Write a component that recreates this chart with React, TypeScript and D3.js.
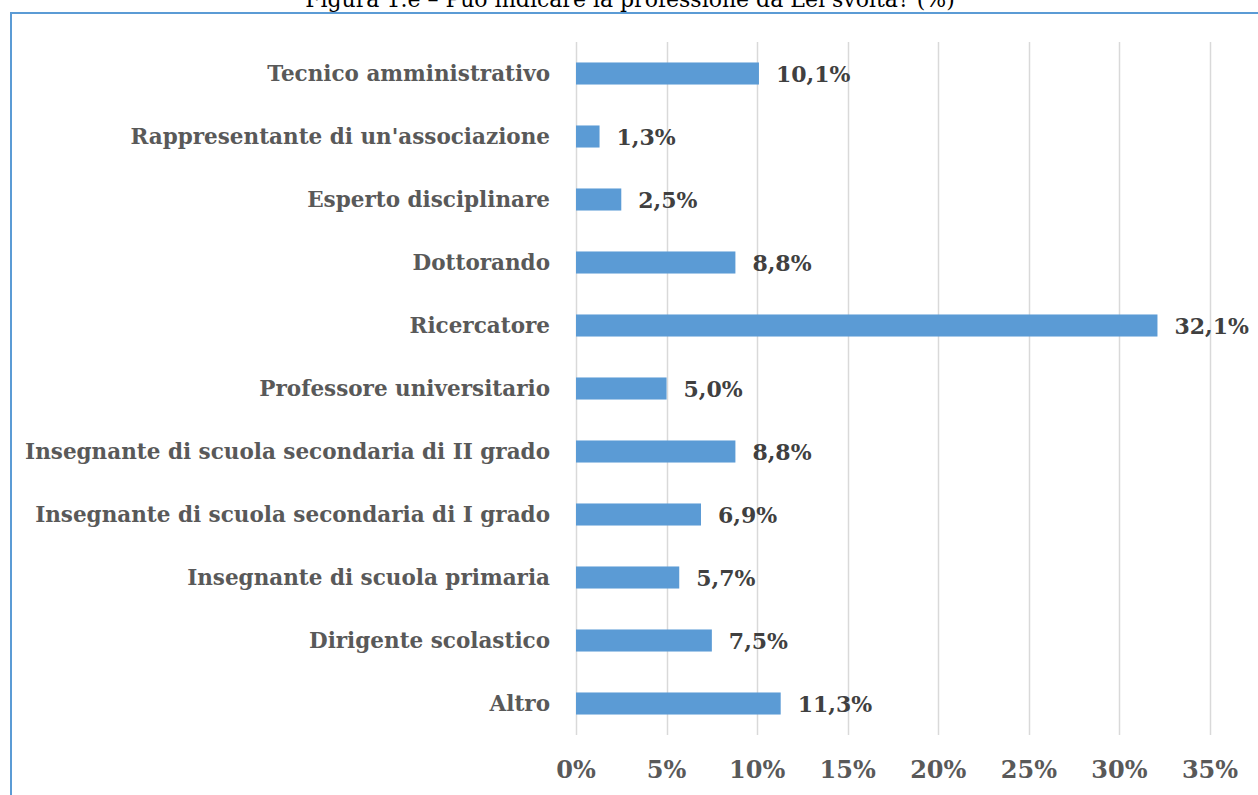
import React, { useEffect, useRef } from "react";
import * as d3 from "d3";

const categories = [
  "Tecnico amministrativo",
  "Rappresentante di un'associazione",
  "Esperto disciplinare",
  "Dottorando",
  "Ricercatore",
  "Professore universitario",
  "Insegnante di scuola secondaria di II grado",
  "Insegnante di scuola secondaria di I grado",
  "Insegnante di scuola primaria",
  "Dirigente scolastico",
  "Altro",
];
const values = [10.1, 1.3, 2.5, 8.8, 32.1, 5.0, 8.8, 6.9, 5.7, 7.5, 11.3];
const ticks = [0, 5, 10, 15, 20, 25, 30, 35];
const title = "Figura 1.e – Può indicare la professione da Lei svolta? (%)";

const W = 1258;
const H = 795;
const FONT = "'DejaVu Serif', serif";

export default function App() {
  const ref = useRef<SVGSVGElement>(null);

  useEffect(() => {
    const svg = d3.select(ref.current);
    svg.selectAll("*").remove();

    const margin = { top: 42, right: 48, bottom: 60, left: 576 };
    const x = d3.scaleLinear().domain([0, 35]).range([margin.left, W - margin.right]);
    const y = d3
      .scaleBand()
      .domain(categories)
      .range([margin.top, H - margin.bottom])
      .paddingInner(0.65)
      .paddingOuter(0.325);

    // frame
    svg
      .append("path")
      .attr("d", `M11,${H} L11,13 L${W},13`)
      .attr("fill", "none")
      .attr("stroke", "#5b9bd5")
      .attr("stroke-width", 2);

    // title (cut at top)
    svg
      .append("text")
      .attr("x", 630)
      .attr("y", 7)
      .attr("text-anchor", "middle")
      .attr("font-family", FONT)
      .attr("font-size", 22)
      .attr("fill", "#000")
      .text(title);

    // gridlines
    svg
      .append("g")
      .selectAll("line")
      .data(ticks)
      .join("line")
      .attr("x1", (d) => Math.round(x(d)) + 0.5)
      .attr("x2", (d) => Math.round(x(d)) + 0.5)
      .attr("y1", margin.top)
      .attr("y2", H - margin.bottom)
      .attr("stroke", "#d9d9d9")
      .attr("stroke-width", 1.5);

    // tick labels
    svg
      .append("g")
      .selectAll("text")
      .data(ticks)
      .join("text")
      .attr("x", (d) => x(d))
      .attr("y", 778)
      .attr("text-anchor", "middle")
      .attr("font-family", FONT)
      .attr("font-weight", "bold")
      .attr("font-size", 24)
      .attr("fill", "#595959")
      .text((d) => d + "%");

    const rows = categories.map((c, i) => ({ c, v: values[i] }));

    // bars
    svg
      .append("g")
      .selectAll("rect")
      .data(rows)
      .join("rect")
      .attr("x", x(0))
      .attr("y", (d) => y(d.c)!)
      .attr("width", (d) => x(d.v) - x(0))
      .attr("height", y.bandwidth())
      .attr("fill", "#5b9bd5");

    // category labels
    svg
      .append("g")
      .selectAll("text")
      .data(rows)
      .join("text")
      .attr("x", margin.left - 26)
      .attr("y", (d) => y(d.c)! + y.bandwidth() / 2)
      .attr("dy", "0.36em")
      .attr("text-anchor", "end")
      .attr("font-family", FONT)
      .attr("font-weight", "bold")
      .attr("font-size", 21.5)
      .attr("fill", "#595959")
      .text((d) => d.c);

    // value labels
    svg
      .append("g")
      .selectAll("text")
      .data(rows)
      .join("text")
      .attr("x", (d) => x(d.v) + 17)
      .attr("y", (d) => y(d.c)! + y.bandwidth() / 2)
      .attr("dy", "0.4em")
      .attr("font-family", FONT)
      .attr("font-weight", "bold")
      .attr("font-size", 22)
      .attr("fill", "#404040")
      .text((d) => d.v.toFixed(1).replace(".", ",") + "%");
  }, []);

  return (
    <svg
      ref={ref}
      width={W}
      height={H}
      style={{ position: "absolute", left: 0, top: 0, background: "#fff" }}
    />
  );
}
